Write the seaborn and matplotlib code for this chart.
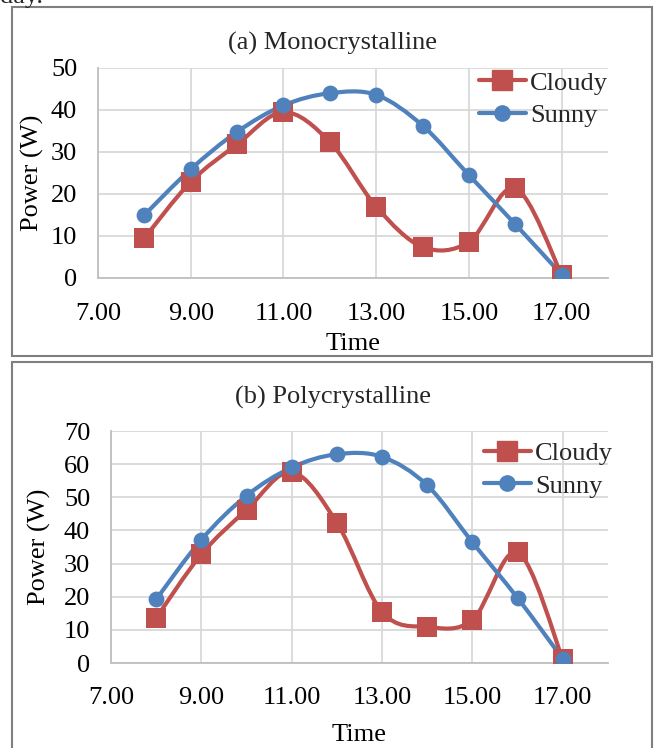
import matplotlib
matplotlib.use("Agg")
import matplotlib.pyplot as plt
from matplotlib.path import Path
from matplotlib.patches import PathPatch, Rectangle
from matplotlib.lines import Line2D
import seaborn as sns
import numpy as np

hours = [8, 9, 10, 11, 12, 13, 14, 15, 16, 17]
mono_cloudy = [9.5, 22.9, 31.8, 39.5, 32.4, 17.0, 7.4, 8.6, 21.4, 0.8]
mono_sunny = [15.0, 25.9, 34.8, 41.1, 44.0, 43.6, 36.3, 24.5, 12.8, 0.8]
poly_cloudy = [13.6, 32.8, 46.2, 57.6, 42.3, 15.4, 10.9, 13.0, 33.4, 1.1]
poly_sunny = [19.2, 37.2, 50.5, 59.0, 63.0, 62.2, 53.6, 36.4, 19.6, 1.2]
x_ticks = [7, 9, 11, 13, 15, 17]

RED = "#C0504D"
BLUE = "#4F81BD"
GRID = "#D9D9D9"
W, H = 657, 748

sns.set_theme(style="white")
plt.rcParams["font.family"] = ["Liberation Serif", "DejaVu Serif"]


def smooth_path(xs, ys):
    # Excel-style smoothed line: Catmull-Rom segments as cubic Bezier curves
    pts = np.column_stack([xs, ys]).astype(float)
    ext = np.vstack([pts[0], pts, pts[-1]])
    verts = [pts[0]]
    codes = [Path.MOVETO]
    for i in range(len(pts) - 1):
        p0, p1, p2, p3 = ext[i], ext[i + 1], ext[i + 2], ext[i + 3]
        verts += [p1 + (p2 - p0) / 6, p2 - (p3 - p1) / 6, p2]
        codes += [Path.CURVE4] * 3
    return Path(verts, codes)


def draw_panel(ax, cloudy, sunny, ymax, ylabel_x, legend_anchor, xpad, xlabelpad):
    for vals, color, marker, size in [(cloudy, RED, "s", 210), (sunny, BLUE, "o", 130)]:
        ax.add_patch(PathPatch(smooth_path(hours, vals), facecolor="none",
                               edgecolor=color, lw=3, zorder=3, capstyle="round"))
        sns.scatterplot(x=hours, y=vals, marker=marker, s=size, color=color,
                        edgecolor=color, linewidth=0, ax=ax, zorder=4)
    ax.set_xlim(7, 18)
    ax.set_ylim(0, ymax)
    ax.set_xticks(x_ticks)
    ax.set_yticks(range(0, ymax + 1, 10))
    ax.xaxis.set_major_formatter(lambda v, p: f"{v:.2f}")
    ax.grid(True, color=GRID, lw=1.3)
    ax.set_axisbelow(True)
    for s in ["top", "right"]:
        ax.spines[s].set_visible(False)
    for s in ["left", "bottom"]:
        ax.spines[s].set_color("#BFBFBF")
        ax.spines[s].set_linewidth(1.3)
    ax.tick_params(axis="both", length=0, labelsize=19, colors="black")
    ax.tick_params(axis="y", pad=15)
    ax.tick_params(axis="x", pad=xpad)
    ax.set_xlabel("Time", fontsize=19, color="black", labelpad=xlabelpad)
    ax.set_ylabel("Power (W)", fontsize=19, color="black")
    ax.yaxis.set_label_coords(ylabel_x, 0.5)
    handles = [
        Line2D([], [], color=RED, lw=3, marker="s", markersize=14),
        Line2D([], [], color=BLUE, lw=3, marker="o", markersize=11),
    ]
    ax.legend(handles, ["Cloudy", "Sunny"], loc="upper right", bbox_to_anchor=legend_anchor,
              frameon=False, fontsize=19, handlelength=1.8, handletextpad=0.15,
              labelspacing=0.35, borderpad=0, borderaxespad=0)


fig = plt.figure(figsize=(W / 100, H / 100), dpi=100)
ax_a = fig.add_axes([98 / W, 1 - 278 / H, 510 / W, 210 / H])
ax_b = fig.add_axes([111 / W, 1 - 663 / H, 497 / W, 232 / H])

draw_panel(ax_a, mono_cloudy, mono_sunny, 50, -0.105, (1.0, 0.985), 18, 6)
draw_panel(ax_b, poly_cloudy, poly_sunny, 70, -0.12, (1.01, 0.955), 17, 11)

fig.text(333 / W, 1 - 43 / H, "(a) Monocrystalline", ha="center", va="center", fontsize=19)
fig.text(333 / W, 1 - 397 / H, "(b) Polycrystalline", ha="center", va="center", fontsize=19)
fig.text(0.0, 1 - 3 / H, "day.", ha="left", va="baseline", fontsize=19)

fig.add_artist(Rectangle((12 / W, 1 - 356 / H), 640 / W, 349 / H, transform=fig.transFigure,
                         fill=False, edgecolor="#7F7F7F", lw=1.5))
fig.add_artist(Rectangle((12 / W, -0.05), 640 / W, 0.05 + 1 - 362 / H, transform=fig.transFigure,
                         fill=False, edgecolor="#7F7F7F", lw=1.5))

fig.savefig("out.png", dpi=100)
plt.close(fig)
